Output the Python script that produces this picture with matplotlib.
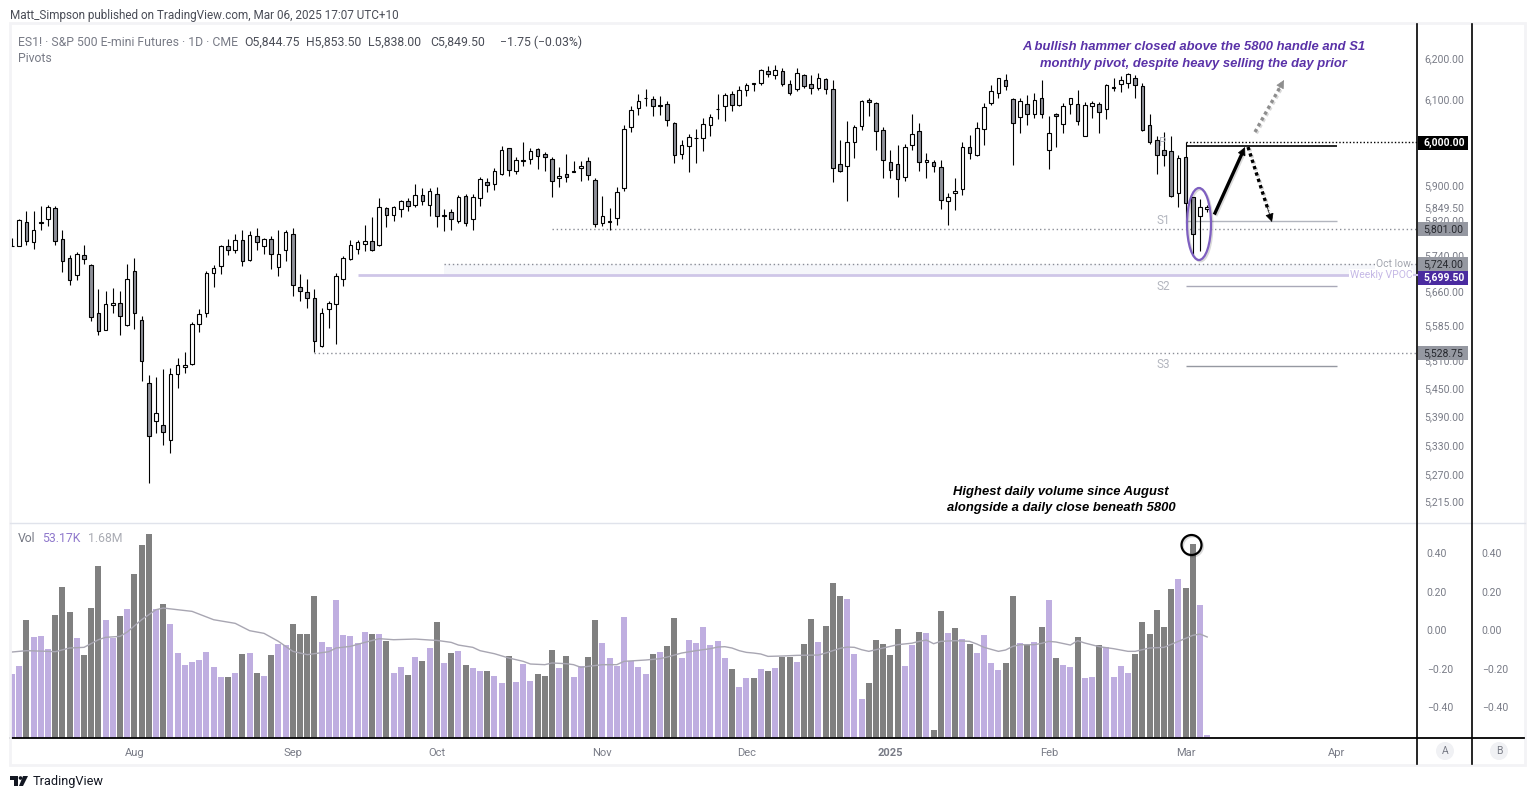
# -*- coding: utf-8 -*-
"""ES1! daily candles with volume pane, TradingView style."""

import numpy as np
import matplotlib
matplotlib.use('Agg')
import matplotlib.pyplot as plt
import matplotlib.patheffects as pe
from matplotlib.patches import Ellipse, Circle, Rectangle, Polygon
from matplotlib.ticker import NullLocator

W, H = 1534, 799

opens = [5762, 5762, 5816, 5769, 5814, 5821, 5846, 5776, 5733, 5695,
         5740, 5718, 5613, 5576, 5629, 5635, 5585, 5706, 5596, 5460,
         5381, 5371, 5340, 5479, 5494, 5502, 5589, 5613, 5700, 5715,
         5760, 5751, 5774, 5729, 5783, 5762, 5776, 5713, 5751, 5787,
         5670, 5659, 5644, 5541, 5620, 5631, 5688, 5731, 5754, 5765,
         5772, 5763, 5846, 5832, 5844, 5863, 5853, 5876, 5855, 5879,
         5830, 5839, 5817, 5874, 5823, 5869, 5907, 5902, 5925, 5985,
         5932, 5957, 5959, 5983, 5971, 5959, 5916, 5925, 5932, 5939,
         5955, 5911, 5813, 5816, 5825, 5893, 6034, 6079, 6103, 6101,
         6087, 6089, 6044, 5971, 5990, 6009, 6009, 6039, 6077, 6084,
         6113, 6087, 6122, 6138, 6139, 6168, 6158, 6168, 6137, 6125,
         6158, 6137, 6127, 6149, 6125, 5948, 5943, 5999, 6037, 6098,
         6091, 6027, 5953, 5948, 5918, 5992, 6025, 5953, 5953, 5941,
         5863, 5881, 5890, 5988, 5969, 6030, 6091, 6117, 6146, 6101,
         6058, 6089, 6067, 6103, 5981, 6067, 6042, 6089, 6089, 6014,
         6084, 6089, 6077, 6129, 6137, 6141, 6151, 6132, 6039, 6004,
         5981, 5979, 5881, 5964, 5872, 5829, 5844.75]
highs = [5778, 5823, 5840, 5840, 5852, 5854, 5852, 5797, 5740, 5747,
         5763, 5720, 5665, 5660, 5667, 5660, 5721, 5734, 5605, 5477,
         5473, 5490, 5492, 5515, 5528, 5592, 5620, 5704, 5718, 5763,
         5777, 5788, 5797, 5795, 5801, 5780, 5783, 5797, 5797, 5801,
         5698, 5688, 5664, 5624, 5638, 5700, 5738, 5775, 5774, 5808,
         5826, 5870, 5849, 5851, 5865, 5869, 5903, 5893, 5892, 5895,
         5844, 5844, 5876, 5879, 5879, 5918, 5916, 5939, 5991, 5987,
         5964, 5999, 5987, 5987, 5976, 5964, 5941, 5971, 5955, 5955,
         5964, 5916, 5875, 5847, 5896, 6039, 6084, 6113, 6125, 6108,
         6108, 6096, 6046, 6004, 6018, 6030, 6056, 6065, 6113, 6115,
         6120, 6132, 6141, 6141, 6174, 6181, 6183, 6177, 6146, 6175,
         6161, 6159, 6163, 6151, 6146, 6005, 6049, 6041, 6098, 6105,
         6094, 6034, 5981, 5992, 5995, 6067, 6044, 5974, 5958, 5958,
         5881, 5916, 5999, 6016, 6048, 6091, 6135, 6153, 6161, 6103,
         6103, 6111, 6116, 6147, 6060, 6068, 6091, 6105, 6122, 6094,
         6096, 6094, 6137, 6153, 6156, 6163, 6158, 6141, 6067, 6014,
         6023, 6014, 5969, 6000, 5873, 5868, 5853.5]
lows = [5760, 5762, 5764, 5755, 5797, 5806, 5764, 5703, 5674, 5685,
        5721, 5595, 5565, 5575, 5612, 5565, 5584, 5578, 5464, 5251,
        5354, 5329, 5314, 5451, 5481, 5500, 5571, 5604, 5670, 5699,
        5741, 5746, 5717, 5728, 5753, 5743, 5710, 5694, 5728, 5650,
        5639, 5624, 5527, 5539, 5580, 5545, 5672, 5730, 5742, 5750,
        5749, 5762, 5804, 5817, 5826, 5840, 5849, 5854, 5828, 5804,
        5795, 5797, 5814, 5807, 5797, 5852, 5884, 5889, 5922, 5921,
        5926, 5944, 5948, 5937, 5933, 5872, 5896, 5907, 5929, 5910,
        5912, 5804, 5806, 5797, 5808, 5887, 6024, 6064, 6086, 6060,
        6064, 6038, 5950, 5959, 5929, 5952, 5978, 6015, 6055, 6050,
        6074, 6086, 6109, 6121, 6136, 6155, 6150, 6133, 6112, 6120,
        6129, 6114, 6123, 6114, 5906, 5931, 5864, 5963, 6029, 6062,
        5982, 5917, 5917, 5873, 5910, 5980, 5933, 5917, 5929, 5844,
        5808, 5842, 5878, 5961, 5968, 5994, 6087, 6103, 6122, 5947,
        6022, 6041, 6057, 6056, 5936, 5989, 6020, 6067, 6041, 6013,
        6057, 6020, 6053, 6121, 6118, 6129, 6103, 6025, 5995, 5925,
        5945, 5872, 5850, 5814, 5743, 5749, 5838]
closes = [5760, 5819, 5772, 5796, 5815, 5849, 5772, 5727, 5684, 5742,
          5731, 5603, 5572, 5631, 5633, 5605, 5688, 5611, 5507, 5348,
          5396, 5358, 5479, 5500, 5500, 5589, 5609, 5700, 5711, 5762,
          5751, 5774, 5727, 5785, 5769, 5776, 5742, 5742, 5792, 5673,
          5661, 5644, 5550, 5611, 5635, 5693, 5733, 5763, 5769, 5772,
          5751, 5849, 5832, 5849, 5863, 5851, 5876, 5863, 5885, 5830,
          5831, 5821, 5872, 5814, 5872, 5914, 5900, 5932, 5980, 5934,
          5957, 5955, 5978, 5966, 5964, 5909, 5920, 5918, 5930, 5943,
          5923, 5810, 5829, 5817, 5883, 6030, 6075, 6096, 6104, 6084,
          6084, 6051, 5969, 5992, 6011, 6010, 6042, 6058, 6078, 6110,
          6087, 6122, 6134, 6139, 6170, 6161, 6170, 6137, 6117, 6165,
          6132, 6127, 6153, 6125, 5939, 5932, 5999, 6034, 6096, 6094,
          6025, 5957, 5934, 5913, 5988, 6018, 5953, 5957, 5943, 5865,
          5872, 5886, 5988, 5974, 6032, 6082, 6120, 6151, 6132, 6044,
          6096, 6065, 6098, 6065, 6020, 6060, 6084, 6103, 6049, 6087,
          6091, 6070, 6134, 6130, 6146, 6161, 6134, 6027, 5999, 5969,
          5969, 5874, 5962, 5859, 5789, 5850, 5849.5]

# volume in thousands of contracts
volumes = [1062, 1194, 1952, 1672, 1688, 1474, 2035, 2497, 2085, 1656,
           1375, 2150, 2844, 1952, 1656, 2018, 2134, 2712, 3190, 3372,
           2134, 2216, 1886, 1408, 1210, 1260, 1292, 1424, 1177, 1012,
           1012, 1078, 1392, 1408, 1078, 1028, 1375, 1556, 1540, 1886,
           1722, 1722, 2348, 1590, 1507, 2282, 1705, 1688, 1573, 1754,
           1722, 1722, 1606, 1078, 1177, 1045, 1342, 1276, 1490, 1920,
           1243, 1408, 1441, 1210, 1160, 1111, 1111, 1028, 913, 1358,
           930, 1226, 946, 1062, 1028, 1458, 1160, 1358, 1012, 1194,
           1342, 1952, 1573, 1326, 1194, 2002, 1276, 1177, 1062, 1392,
           1424, 1524, 1986, 1326, 1622, 1573, 1837, 1540, 1606, 1326,
           1144, 847, 996, 996, 1144, 1111, 1160, 1342, 1342, 1260,
           1556, 1969, 1590, 1854, 2563, 2348, 2299, 1392, 649, 913,
           1622, 1556, 1375, 1804, 1194, 1540, 1754, 1738, 138, 2101,
           1738, 1820, 1639, 1556, 1408, 1705, 1243, 1128, 1243, 2348,
           1573, 1540, 1590, 1837, 2282, 1326, 1210, 1177, 1672, 996,
           1012, 1540, 1507, 1012, 1194, 1078, 1392, 1920, 1722, 2118,
           1837, 2464, 2629, 2480, 3206, 2200, 53.17]
# p = lavender bar, g = grey bar
vol_flags = ("ppgpppgggp" "gggppgpggg" "pgpppppppp" "gpgpgpgppg"
             "gggppppppp" "gpgppgpgpg" "pgpgppgppg" "pppgggpgpp"
             "ggpppppppg" "pggppppppp" "gppgpgpggp" "ggpgggpppg"
             "ggggppgpgg" "pgpgppppgg" "pgpgpgppgp" "pgppppgggg"
             "ggpggpp")

# volume moving average, read at the bars where it bends
ma_bars = [1, 3, 6, 7, 9, 11, 13, 14, 16, 17, 19, 21, 22, 24, 26, 29, 32, 34, 36, 38, 40, 42,
           44, 45, 46, 48, 50, 52, 54, 57, 59, 60, 62, 63, 65, 66, 68, 70, 72, 73, 75, 76, 78,
           79, 80, 81, 83, 85, 86, 89, 91, 92, 94, 96, 98, 99, 100, 101, 102, 103, 104, 105,
           106, 108, 110, 113, 114, 115, 116, 117, 118, 119, 120, 121, 122, 124, 126, 127, 128,
           129, 130, 132, 134, 135, 136, 138, 139, 140, 141, 143, 144, 145, 146, 148, 149, 150,
           152, 154, 156, 157, 159, 161, 163, 165, 166, 167]
ma_vals = [1419, 1441, 1430, 1424, 1485, 1496, 1622, 1661, 1677, 1749, 1952, 2117, 2145, 2117,
           2090, 1952, 1892, 1771, 1727, 1595, 1430, 1375, 1408, 1424, 1485, 1512, 1578, 1639,
           1622, 1633, 1617, 1611, 1578, 1534, 1496, 1441, 1391, 1320, 1265, 1221, 1210, 1238,
           1226, 1210, 1166, 1182, 1210, 1210, 1265, 1287, 1309, 1336, 1402, 1441, 1474, 1501,
           1507, 1485, 1441, 1413, 1402, 1386, 1347, 1353, 1364, 1369, 1402, 1441, 1479, 1501,
           1496, 1457, 1430, 1457, 1485, 1540, 1565, 1595, 1617, 1556, 1595, 1606, 1595, 1551,
           1496, 1430, 1452, 1512, 1540, 1540, 1562, 1595, 1584, 1534, 1606, 1567, 1507, 1474,
           1430, 1430, 1485, 1496, 1595, 1694, 1716, 1667]

price_ticks = [6200, 6100, 5900, 5849.5, 5820, 5740, 5660, 5585, 5510, 5450, 5390, 5330, 5270, 5215]
month_labels = ['Aug', 'Sep', 'Oct', 'Nov', 'Dec', '2025', 'Feb', 'Mar', 'Apr']
month_bars = [17, 39, 59, 82, 102, 122, 144, 163, 184]
scale_ticks = [0.4, 0.2, 0.0, -0.2, -0.4]

# where the level lines sit on the picture
pivot_p, pivot_s1, pivot_s2, pivot_s3 = 5990, 5817, 5671, 5497
level_6000, level_5801, oct_low, vpoc, level_5528 = 5999, 5799, 5720, 5696, 5525

GREY_TXT = '#787b86'
CANDLE_DN = '#8e9099'
VOL_P = '#bfaee0'
VOL_G = '#808080'
PURPLE = '#5a32a8'
FONT = 'Roboto'
SHADOW = [pe.SimpleLineShadow(offset=(1, -1), alpha=0.15), pe.Normal()]

plt.rcParams['font.family'] = [FONT, 'DejaVu Sans']


def px_axes(fig, left, top, right, bottom, **kw):
    return fig.add_axes([left / W, 1 - bottom / H, (right - left) / W, (bottom - top) / H], **kw)


fig = plt.figure(figsize=(W / 100, H / 100), dpi=100, facecolor='white')

# price pane
ax = px_axes(fig, 10, 24, 1417, 522)
bars = np.arange(len(opens))
xmin, xmax = -0.28, 195.14
for spine in ax.spines.values():
    spine.set_visible(False)
ax.set_yscale('log')
ax.set_xlim(xmin, xmax)
ax.set_ylim(5172, 6283)

o, h, l, c = map(np.array, (opens, highs, lows, closes))
ax.vlines(bars, l, h, color='black', lw=0.8, zorder=3)
body_lo = np.minimum(o, c)
body_hi = np.maximum(o, c)
body_col = [CANDLE_DN if cl < op else 'white' for op, cl in zip(opens, closes)]
ax.bar(bars, body_hi - body_lo, bottom=body_lo, width=0.5, color=body_col,
       edgecolor='black', linewidth=0.8, zorder=4)

# levels
ax.fill_between([60, xmax], vpoc, oct_low, color='#f5f6fa', lw=0, zorder=1)
ax.hlines(level_6000, 163, xmax, color='black', lw=1, ls=(0, (1, 1.5)), zorder=2)
ax.hlines(level_5801, 75, xmax, color='#8a8d96', lw=1, ls=(0, (1, 2)), zorder=2)
ax.hlines(oct_low, 60, xmax, color='#8a8d96', lw=1, ls=(0, (1, 2)), zorder=2)
ax.hlines(level_5528, 42, xmax, color='#8a8d96', lw=1, ls=(0, (1, 2)), zorder=2)
ax.hlines(vpoc, 48, 186, color='#cfc6e8', lw=2, zorder=2)
ax.hlines(pivot_p, 163, 184, color='black', lw=1.2, zorder=2)
ax.hlines(pivot_s1, 163, 184, color='#b2b5be', lw=1, zorder=2)
ax.hlines(pivot_s2, 163, 184, color='#a9a9b8', lw=1, zorder=2)
ax.hlines(pivot_s3, 163, 184, color='#9598a1', lw=1, zorder=2)

ax.yaxis.set_major_locator(plt.FixedLocator(price_ticks))
ax.yaxis.set_minor_locator(NullLocator())
ax.yaxis.tick_right()
ax.set_yticklabels(['{:,.2f}'.format(p) for p in price_ticks])
ax.tick_params(axis='y', which='both', length=0, pad=5, labelsize=7.5, labelcolor=GREY_TXT)
ax.set_xticks([])

# volume pane
ax_vol = px_axes(fig, 10, 523, 1417, 738)
for name, spine in ax_vol.spines.items():
    spine.set_visible(name == 'bottom')
ax_vol.spines['bottom'].set_linewidth(1.3)
ax_vol.bar(bars, volumes, width=0.84,
           color=[VOL_P if f == 'p' else VOL_G for f in vol_flags], zorder=2)
ax_vol.plot(np.array(ma_bars) - 1, ma_vals, color='#a8a6b2', lw=1, zorder=3)
ax_vol.set_xlim(xmin, xmax)
ax_vol.set_ylim(0, 3548)
ax_vol.set_yticks([])
ax_vol.set_xticks(month_bars)
ax_vol.set_xticklabels(month_labels, fontsize=8, color=GREY_TXT)
ax_vol.get_xticklabels()[5].set_fontweight('bold')
ax_vol.tick_params(axis='x', length=0, pad=7)

# the two spare scales right of the volume pane
for left, right in [(1417, 1472), (1472, 1525)]:
    ax_s = px_axes(fig, left, 523, right, 738)
    for spine in ax_s.spines.values():
        spine.set_visible(False)
    ax_s.set_xticks([])
    ax_s.set_ylim(-0.561, 0.556)
    ax_s.yaxis.tick_left()
    ax_s.set_yticks(scale_ticks)
    ax_s.set_yticklabels(['{:.2f}'.format(t).replace('-', '\u2212') for t in scale_ticks],
                         ha='left', fontsize=7.5, color=GREY_TXT)
    ax_s.tick_params(axis='y', length=0, pad=-7)

# overlay in pixel coordinates for frame, notes and drawings
ov = fig.add_axes([0, 0, 1, 1], facecolor='none', zorder=10)
ov.set_xlim(0, W)
ov.set_ylim(H, 0)
ov.axis('off')

ov.add_patch(Rectangle((10, 23), 1515, 742, fill=False, ec='#f3f3f6', lw=2))
ov.plot([10, 1525], [522.5, 522.5], color='#e0e3eb', lw=1)
ov.plot([1417, 1524], [738.3, 738.3], color='black', lw=1.3)
ov.plot([1417, 1417], [24, 764], color='black', lw=1.2)
ov.plot([1472, 1472], [24, 764], color='black', lw=1.2)

ov.text(10, 15, 'Matt_Simpson published on TradingView.com, Mar 06, 2025 17:07 UTC+10',
        fontsize=8.5, color='#4a4d57', va='center')
ov.text(18, 42, 'ES1! \u00b7 S&P 500 E-mini Futures \u00b7 1D \u00b7 CME', fontsize=8.8,
        color=GREY_TXT, va='center')
for x, txt in [(244, 'O5,844.75'), (306, 'H5,853.50'), (368, 'L5,838.00'), (430, 'C5,849.50'),
               (500, '\u22121.75 (\u22120.03%)')]:
    ov.text(x, 42, txt, fontsize=8.8, color='#4a4d57', va='center')
ov.text(18, 59, 'Pivots', fontsize=8.8, color=GREY_TXT, va='center')
ov.text(18, 538, 'Vol', fontsize=8.8, color=GREY_TXT, va='center')
ov.text(42, 538, '53.17K', fontsize=8.8, color='#8f78cc', va='center')
ov.text(88, 538, '1.68M', fontsize=8.8, color='#a9abb3', va='center')

note_font = dict(family='Liberation Sans', fontsize=9.4, fontweight='bold', fontstyle='italic',
                 ha='center', va='center')
ov.text(1193.5, 47, 'A bullish hammer closed above the 5800 handle and S1', color=PURPLE, **note_font)
ov.text(1193.5, 63.5, 'monthly pivot, despite heavy selling the day prior', color=PURPLE, **note_font)
ov.text(1061, 491.5, 'Highest daily volume since August', color='black', **note_font)
ov.text(1061, 507.5, 'alongside a daily close beneath 5800', color='black', **note_font)

for label, y in [('P', 143), ('S1', 220), ('S2', 286), ('S3', 365)]:
    ov.text(1163, y, label, fontsize=8.5, color='#b2b5be', ha='center', va='center')
ov.text(1393, 264, 'Oct low', fontsize=7.5, color='#a3a6af', ha='center', va='center',
        bbox=dict(fc='white', ec='none', pad=0.5))
ov.text(1381, 274.5, 'Weekly VPOC', fontsize=7.5, color='#c5b8e6', ha='center', va='center',
        bbox=dict(fc='white', ec='none', pad=0.5))
ov.plot([1413, 1417], [275, 275], color='#cfc6e8', lw=1.5)

# boxed price labels
boxed = [('6,000.00', 143, 'black', 'white'), ('5,801.00', 229, '#9598a1', '#26282e'),
         ('5,724.00', 264, '#9598a1', '#26282e'), ('5,699.50', 278, '#4a2ba0', 'white'),
         ('5,528.75', 353, '#9598a1', '#26282e')]
for text, y, bg, fg in boxed:
    ov.add_patch(Rectangle((1418, y - 7), 50, 14, fc=bg, ec='none'))
    ov.text(1423.5, y, text, fontsize=7.5, color=fg, va='center',
            fontweight='bold' if fg == 'white' else 'normal')

# hand drawn marks
ov.add_patch(Ellipse((1199, 224), 24, 72, fill=False, ec='#7e5fc0', lw=1.6, path_effects=SHADOW))
ov.add_patch(Circle((1191.5, 545), 10, fill=False, ec='black', lw=1.6, path_effects=SHADOW))


def arrow(x0, y0, x1, y1, color, dotted):
    dx, dy = x1 - x0, y1 - y0
    if dotted:
        ov.plot([x0, x1 - 0.15 * dx], [y0, y1 - 0.15 * dy], color=color, lw=2.4,
                ls=(0, (1, 1)), path_effects=SHADOW)
    else:
        ov.plot([x0, x1 - 0.1 * dx], [y0, y1 - 0.1 * dy], color=color, lw=2.4, path_effects=SHADOW)
    ov.annotate('', xy=(x1, y1), xytext=(x1 - 0.2 * dx, y1 - 0.2 * dy),
                arrowprops=dict(arrowstyle='-|>', color=color, lw=0.5, mutation_scale=13,
                                shrinkA=0, shrinkB=0))


arrow(1215, 213, 1245, 147, 'black', False)
arrow(1248, 147, 1272, 222, 'black', True)
arrow(1255, 132, 1284, 80, '#8e8e8e', True)

# footer
for cx, txt in [(1445, 'A'), (1499, 'B')]:
    ov.add_patch(Circle((cx, 751), 9, fc='#f0f1f4', ec='none'))
    ov.text(cx, 751, txt, fontsize=7.5, color=GREY_TXT, ha='center', va='center')

ov.add_patch(Rectangle((10, 776), 8, 3.5, fc='#131722', ec='none'))
ov.add_patch(Rectangle((14, 776), 4, 10, fc='#131722', ec='none'))
ov.add_patch(Circle((20.5, 778), 1.8, fc='#131722', ec='none'))
ov.add_patch(Polygon([(23, 776), (28, 776), (23, 786), (19, 786)], fc='#131722', ec='none'))
ov.text(33, 781.5, 'TradingView', fontsize=9.2, color='#131722', va='center')

fig.savefig('out.png', dpi=100)
